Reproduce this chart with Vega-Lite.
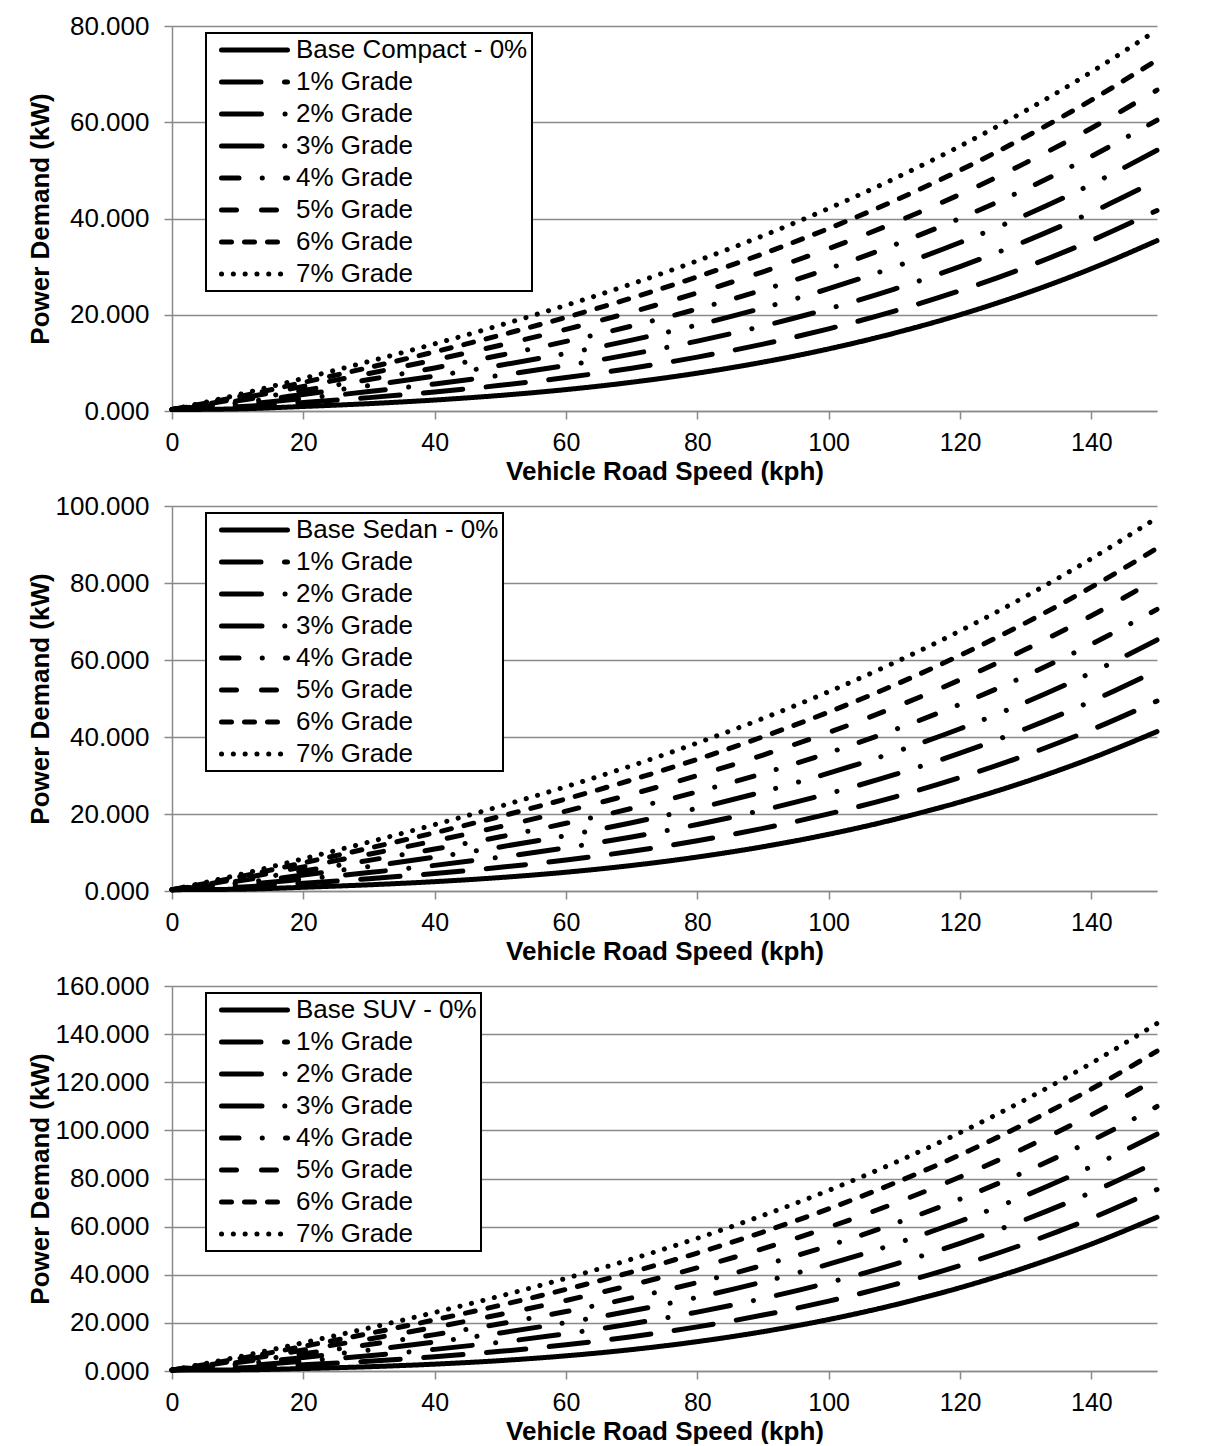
{
  "$schema": "https://vega.github.io/schema/vega-lite/v6.json",
  "background": "white",
  "padding": {"left": 27, "top": 13, "right": 10, "bottom": 0},
  "spacing": 9,
  "config": {
    "view": {"stroke": null},
    "font": "Liberation Sans",
    "axis": {
      "labelFont": "Liberation Sans", "labelFontSize": 26, "labelColor": "black",
      "titleFont": "Liberation Sans", "titleFontSize": 26, "titleFontWeight": "bold", "titleColor": "black",
      "domainColor": "#8a8a8a", "domainWidth": 1.5,
      "tickColor": "#8a8a8a", "tickWidth": 1.5, "tickSize": 8,
      "gridColor": "#8a8a8a", "gridWidth": 1.5,
      "labelFlush": false
    },
    "axisX": {"grid": false, "labelFontSize": 25, "labelPadding": 11, "titlePadding": 3},
    "axisY": {"grid": true, "labelPadding": 15, "titlePadding": 2, "minExtent": 117, "maxExtent": 117, "format": ".3f"},
    "legend": {
      "title": null, "orient": "none", "legendX": 34, "legendY": 7,
      "symbolType": "stroke", "symbolSize": 4356, "symbolStrokeWidth": 5, "symbolStrokeColor": "black",
      "labelFont": "Liberation Sans", "labelFontSize": 26, "labelColor": "black", "labelLimit": 500,
      "symbolOffset": 9, "labelOffset": 6, "rowPadding": 6, "padding": 4, "clipHeight": 26,
      "strokeColor": "black", "fillColor": "white"
    }
  },
  "datasets": {
    "compact": [
      {"kph":0,"series":"Base Compact - 0%","kW":0.3},{"kph":10,"series":"Base Compact - 0%","kW":0.44},{"kph":20,"series":"Base Compact - 0%","kW":0.94},{"kph":30,"series":"Base Compact - 0%","kW":1.53},{"kph":40,"series":"Base Compact - 0%","kW":2.28},{"kph":50,"series":"Base Compact - 0%","kW":3.24},{"kph":60,"series":"Base Compact - 0%","kW":4.45},{"kph":70,"series":"Base Compact - 0%","kW":5.97},{"kph":80,"series":"Base Compact - 0%","kW":7.86},{"kph":90,"series":"Base Compact - 0%","kW":10.15},{"kph":100,"series":"Base Compact - 0%","kW":12.9},{"kph":110,"series":"Base Compact - 0%","kW":16.17},{"kph":120,"series":"Base Compact - 0%","kW":20},{"kph":130,"series":"Base Compact - 0%","kW":24.45},{"kph":140,"series":"Base Compact - 0%","kW":29.57},{"kph":150,"series":"Base Compact - 0%","kW":35.4},
      {"kph":0,"series":"1% Grade","kW":0.3},{"kph":10,"series":"1% Grade","kW":0.86},{"kph":20,"series":"1% Grade","kW":1.77},{"kph":30,"series":"1% Grade","kW":2.78},{"kph":40,"series":"1% Grade","kW":3.95},{"kph":50,"series":"1% Grade","kW":5.33},{"kph":60,"series":"1% Grade","kW":6.95},{"kph":70,"series":"1% Grade","kW":8.89},{"kph":80,"series":"1% Grade","kW":11.2},{"kph":90,"series":"1% Grade","kW":13.9},{"kph":100,"series":"1% Grade","kW":17.07},{"kph":110,"series":"1% Grade","kW":20.76},{"kph":120,"series":"1% Grade","kW":25},{"kph":130,"series":"1% Grade","kW":29.87},{"kph":140,"series":"1% Grade","kW":35.41},{"kph":150,"series":"1% Grade","kW":41.66},
      {"kph":0,"series":"2% Grade","kW":0.3},{"kph":10,"series":"2% Grade","kW":1.27},{"kph":20,"series":"2% Grade","kW":2.61},{"kph":30,"series":"2% Grade","kW":4.03},{"kph":40,"series":"2% Grade","kW":5.62},{"kph":50,"series":"2% Grade","kW":7.41},{"kph":60,"series":"2% Grade","kW":9.45},{"kph":70,"series":"2% Grade","kW":11.81},{"kph":80,"series":"2% Grade","kW":14.53},{"kph":90,"series":"2% Grade","kW":17.66},{"kph":100,"series":"2% Grade","kW":21.24},{"kph":110,"series":"2% Grade","kW":25.34},{"kph":120,"series":"2% Grade","kW":30.01},{"kph":130,"series":"2% Grade","kW":35.29},{"kph":140,"series":"2% Grade","kW":41.25},{"kph":150,"series":"2% Grade","kW":47.91},
      {"kph":0,"series":"3% Grade","kW":0.3},{"kph":10,"series":"3% Grade","kW":1.69},{"kph":20,"series":"3% Grade","kW":3.44},{"kph":30,"series":"3% Grade","kW":5.28},{"kph":40,"series":"3% Grade","kW":7.28},{"kph":50,"series":"3% Grade","kW":9.5},{"kph":60,"series":"3% Grade","kW":11.96},{"kph":70,"series":"3% Grade","kW":14.73},{"kph":80,"series":"3% Grade","kW":17.87},{"kph":90,"series":"3% Grade","kW":21.41},{"kph":100,"series":"3% Grade","kW":25.41},{"kph":110,"series":"3% Grade","kW":29.93},{"kph":120,"series":"3% Grade","kW":35.01},{"kph":130,"series":"3% Grade","kW":40.71},{"kph":140,"series":"3% Grade","kW":47.08},{"kph":150,"series":"3% Grade","kW":54.17},
      {"kph":0,"series":"4% Grade","kW":0.3},{"kph":10,"series":"4% Grade","kW":2.11},{"kph":20,"series":"4% Grade","kW":4.28},{"kph":30,"series":"4% Grade","kW":6.53},{"kph":40,"series":"4% Grade","kW":8.95},{"kph":50,"series":"4% Grade","kW":11.58},{"kph":60,"series":"4% Grade","kW":14.46},{"kph":70,"series":"4% Grade","kW":17.65},{"kph":80,"series":"4% Grade","kW":21.2},{"kph":90,"series":"4% Grade","kW":25.16},{"kph":100,"series":"4% Grade","kW":29.58},{"kph":110,"series":"4% Grade","kW":34.52},{"kph":120,"series":"4% Grade","kW":40.02},{"kph":130,"series":"4% Grade","kW":46.13},{"kph":140,"series":"4% Grade","kW":52.92},{"kph":150,"series":"4% Grade","kW":60.42},
      {"kph":0,"series":"5% Grade","kW":0.3},{"kph":10,"series":"5% Grade","kW":2.53},{"kph":20,"series":"5% Grade","kW":5.11},{"kph":30,"series":"5% Grade","kW":7.79},{"kph":40,"series":"5% Grade","kW":10.62},{"kph":50,"series":"5% Grade","kW":13.67},{"kph":60,"series":"5% Grade","kW":16.96},{"kph":70,"series":"5% Grade","kW":20.57},{"kph":80,"series":"5% Grade","kW":24.54},{"kph":90,"series":"5% Grade","kW":28.92},{"kph":100,"series":"5% Grade","kW":33.75},{"kph":110,"series":"5% Grade","kW":39.11},{"kph":120,"series":"5% Grade","kW":45.02},{"kph":130,"series":"5% Grade","kW":51.56},{"kph":140,"series":"5% Grade","kW":58.76},{"kph":150,"series":"5% Grade","kW":66.68},
      {"kph":0,"series":"6% Grade","kW":0.3},{"kph":10,"series":"6% Grade","kW":2.94},{"kph":20,"series":"6% Grade","kW":5.94},{"kph":30,"series":"6% Grade","kW":9.04},{"kph":40,"series":"6% Grade","kW":12.29},{"kph":50,"series":"6% Grade","kW":15.75},{"kph":60,"series":"6% Grade","kW":19.46},{"kph":70,"series":"6% Grade","kW":23.48},{"kph":80,"series":"6% Grade","kW":27.88},{"kph":90,"series":"6% Grade","kW":32.67},{"kph":100,"series":"6% Grade","kW":37.92},{"kph":110,"series":"6% Grade","kW":43.69},{"kph":120,"series":"6% Grade","kW":50.02},{"kph":130,"series":"6% Grade","kW":56.98},{"kph":140,"series":"6% Grade","kW":64.6},{"kph":150,"series":"6% Grade","kW":72.93},
      {"kph":0,"series":"7% Grade","kW":0.3},{"kph":10,"series":"7% Grade","kW":3.36},{"kph":20,"series":"7% Grade","kW":6.78},{"kph":30,"series":"7% Grade","kW":10.29},{"kph":40,"series":"7% Grade","kW":13.96},{"kph":50,"series":"7% Grade","kW":17.84},{"kph":60,"series":"7% Grade","kW":21.96},{"kph":70,"series":"7% Grade","kW":26.4},{"kph":80,"series":"7% Grade","kW":31.21},{"kph":90,"series":"7% Grade","kW":36.42},{"kph":100,"series":"7% Grade","kW":42.09},{"kph":110,"series":"7% Grade","kW":48.28},{"kph":120,"series":"7% Grade","kW":55.03},{"kph":130,"series":"7% Grade","kW":62.4},{"kph":140,"series":"7% Grade","kW":70.44},{"kph":150,"series":"7% Grade","kW":79.19}
    ],
    "sedan": [
      {"kph":0,"series":"Base Sedan - 0%","kW":0.35},{"kph":10,"series":"Base Sedan - 0%","kW":0.45},{"kph":20,"series":"Base Sedan - 0%","kW":0.97},{"kph":30,"series":"Base Sedan - 0%","kW":1.61},{"kph":40,"series":"Base Sedan - 0%","kW":2.43},{"kph":50,"series":"Base Sedan - 0%","kW":3.5},{"kph":60,"series":"Base Sedan - 0%","kW":4.88},{"kph":70,"series":"Base Sedan - 0%","kW":6.63},{"kph":80,"series":"Base Sedan - 0%","kW":8.82},{"kph":90,"series":"Base Sedan - 0%","kW":11.5},{"kph":100,"series":"Base Sedan - 0%","kW":14.73},{"kph":110,"series":"Base Sedan - 0%","kW":18.58},{"kph":120,"series":"Base Sedan - 0%","kW":23.11},{"kph":130,"series":"Base Sedan - 0%","kW":28.39},{"kph":140,"series":"Base Sedan - 0%","kW":34.47},{"kph":150,"series":"Base Sedan - 0%","kW":41.41},
      {"kph":0,"series":"1% Grade","kW":0.35},{"kph":10,"series":"1% Grade","kW":0.98},{"kph":20,"series":"1% Grade","kW":2.03},{"kph":30,"series":"1% Grade","kW":3.2},{"kph":40,"series":"1% Grade","kW":4.55},{"kph":50,"series":"1% Grade","kW":6.15},{"kph":60,"series":"1% Grade","kW":8.05},{"kph":70,"series":"1% Grade","kW":10.33},{"kph":80,"series":"1% Grade","kW":13.05},{"kph":90,"series":"1% Grade","kW":16.26},{"kph":100,"series":"1% Grade","kW":20.02},{"kph":110,"series":"1% Grade","kW":24.4},{"kph":120,"series":"1% Grade","kW":29.46},{"kph":130,"series":"1% Grade","kW":35.27},{"kph":140,"series":"1% Grade","kW":41.88},{"kph":150,"series":"1% Grade","kW":49.35},
      {"kph":0,"series":"2% Grade","kW":0.35},{"kph":10,"series":"2% Grade","kW":1.51},{"kph":20,"series":"2% Grade","kW":3.09},{"kph":30,"series":"2% Grade","kW":4.78},{"kph":40,"series":"2% Grade","kW":6.66},{"kph":50,"series":"2% Grade","kW":8.79},{"kph":60,"series":"2% Grade","kW":11.23},{"kph":70,"series":"2% Grade","kW":14.04},{"kph":80,"series":"2% Grade","kW":17.28},{"kph":90,"series":"2% Grade","kW":21.02},{"kph":100,"series":"2% Grade","kW":25.31},{"kph":110,"series":"2% Grade","kW":30.22},{"kph":120,"series":"2% Grade","kW":35.81},{"kph":130,"series":"2% Grade","kW":42.14},{"kph":140,"series":"2% Grade","kW":49.28},{"kph":150,"series":"2% Grade","kW":57.28},
      {"kph":0,"series":"3% Grade","kW":0.35},{"kph":10,"series":"3% Grade","kW":2.04},{"kph":20,"series":"3% Grade","kW":4.14},{"kph":30,"series":"3% Grade","kW":6.37},{"kph":40,"series":"3% Grade","kW":8.78},{"kph":50,"series":"3% Grade","kW":11.44},{"kph":60,"series":"3% Grade","kW":14.4},{"kph":70,"series":"3% Grade","kW":17.74},{"kph":80,"series":"3% Grade","kW":21.52},{"kph":90,"series":"3% Grade","kW":25.78},{"kph":100,"series":"3% Grade","kW":30.6},{"kph":110,"series":"3% Grade","kW":36.04},{"kph":120,"series":"3% Grade","kW":42.15},{"kph":130,"series":"3% Grade","kW":49.02},{"kph":140,"series":"3% Grade","kW":56.69},{"kph":150,"series":"3% Grade","kW":65.22},
      {"kph":0,"series":"4% Grade","kW":0.35},{"kph":10,"series":"4% Grade","kW":2.57},{"kph":20,"series":"4% Grade","kW":5.2},{"kph":30,"series":"4% Grade","kW":7.96},{"kph":40,"series":"4% Grade","kW":10.89},{"kph":50,"series":"4% Grade","kW":14.08},{"kph":60,"series":"4% Grade","kW":17.58},{"kph":70,"series":"4% Grade","kW":21.44},{"kph":80,"series":"4% Grade","kW":25.75},{"kph":90,"series":"4% Grade","kW":30.54},{"kph":100,"series":"4% Grade","kW":35.89},{"kph":110,"series":"4% Grade","kW":41.86},{"kph":120,"series":"4% Grade","kW":48.5},{"kph":130,"series":"4% Grade","kW":55.9},{"kph":140,"series":"4% Grade","kW":64.09},{"kph":150,"series":"4% Grade","kW":73.15},
      {"kph":0,"series":"5% Grade","kW":0.35},{"kph":10,"series":"5% Grade","kW":3.1},{"kph":20,"series":"5% Grade","kW":6.26},{"kph":30,"series":"5% Grade","kW":9.55},{"kph":40,"series":"5% Grade","kW":13.01},{"kph":50,"series":"5% Grade","kW":16.73},{"kph":60,"series":"5% Grade","kW":20.75},{"kph":70,"series":"5% Grade","kW":25.15},{"kph":80,"series":"5% Grade","kW":29.98},{"kph":90,"series":"5% Grade","kW":35.31},{"kph":100,"series":"5% Grade","kW":41.18},{"kph":110,"series":"5% Grade","kW":47.68},{"kph":120,"series":"5% Grade","kW":54.85},{"kph":130,"series":"5% Grade","kW":62.78},{"kph":140,"series":"5% Grade","kW":71.5},{"kph":150,"series":"5% Grade","kW":81.09},
      {"kph":0,"series":"6% Grade","kW":0.35},{"kph":10,"series":"6% Grade","kW":3.62},{"kph":20,"series":"6% Grade","kW":7.32},{"kph":30,"series":"6% Grade","kW":11.13},{"kph":40,"series":"6% Grade","kW":15.13},{"kph":50,"series":"6% Grade","kW":19.37},{"kph":60,"series":"6% Grade","kW":23.92},{"kph":70,"series":"6% Grade","kW":28.85},{"kph":80,"series":"6% Grade","kW":34.21},{"kph":90,"series":"6% Grade","kW":40.07},{"kph":100,"series":"6% Grade","kW":46.47},{"kph":110,"series":"6% Grade","kW":53.49},{"kph":120,"series":"6% Grade","kW":61.2},{"kph":130,"series":"6% Grade","kW":69.65},{"kph":140,"series":"6% Grade","kW":78.91},{"kph":150,"series":"6% Grade","kW":89.02},
      {"kph":0,"series":"7% Grade","kW":0.35},{"kph":10,"series":"7% Grade","kW":4.15},{"kph":20,"series":"7% Grade","kW":8.38},{"kph":30,"series":"7% Grade","kW":12.72},{"kph":40,"series":"7% Grade","kW":17.24},{"kph":50,"series":"7% Grade","kW":22.02},{"kph":60,"series":"7% Grade","kW":27.1},{"kph":70,"series":"7% Grade","kW":32.55},{"kph":80,"series":"7% Grade","kW":38.44},{"kph":90,"series":"7% Grade","kW":44.83},{"kph":100,"series":"7% Grade","kW":51.76},{"kph":110,"series":"7% Grade","kW":59.31},{"kph":120,"series":"7% Grade","kW":67.55},{"kph":130,"series":"7% Grade","kW":76.53},{"kph":140,"series":"7% Grade","kW":86.31},{"kph":150,"series":"7% Grade","kW":96.96}
    ],
    "suv": [
      {"kph":0,"series":"Base SUV - 0%","kW":0.4},{"kph":10,"series":"Base SUV - 0%","kW":0.46},{"kph":20,"series":"Base SUV - 0%","kW":1.02},{"kph":30,"series":"Base SUV - 0%","kW":1.78},{"kph":40,"series":"Base SUV - 0%","kW":2.85},{"kph":50,"series":"Base SUV - 0%","kW":4.32},{"kph":60,"series":"Base SUV - 0%","kW":6.31},{"kph":70,"series":"Base SUV - 0%","kW":8.9},{"kph":80,"series":"Base SUV - 0%","kW":12.21},{"kph":90,"series":"Base SUV - 0%","kW":16.34},{"kph":100,"series":"Base SUV - 0%","kW":21.38},{"kph":110,"series":"Base SUV - 0%","kW":27.44},{"kph":120,"series":"Base SUV - 0%","kW":34.62},{"kph":130,"series":"Base SUV - 0%","kW":43.03},{"kph":140,"series":"Base SUV - 0%","kW":52.75},{"kph":150,"series":"Base SUV - 0%","kW":63.91},
      {"kph":0,"series":"1% Grade","kW":0.4},{"kph":10,"series":"1% Grade","kW":1.23},{"kph":20,"series":"1% Grade","kW":2.55},{"kph":30,"series":"1% Grade","kW":4.08},{"kph":40,"series":"1% Grade","kW":5.92},{"kph":50,"series":"1% Grade","kW":8.16},{"kph":60,"series":"1% Grade","kW":10.91},{"kph":70,"series":"1% Grade","kW":14.27},{"kph":80,"series":"1% Grade","kW":18.35},{"kph":90,"series":"1% Grade","kW":23.24},{"kph":100,"series":"1% Grade","kW":29.05},{"kph":110,"series":"1% Grade","kW":35.88},{"kph":120,"series":"1% Grade","kW":43.82},{"kph":130,"series":"1% Grade","kW":53},{"kph":140,"series":"1% Grade","kW":63.49},{"kph":150,"series":"1% Grade","kW":75.42},
      {"kph":0,"series":"2% Grade","kW":0.4},{"kph":10,"series":"2% Grade","kW":1.99},{"kph":20,"series":"2% Grade","kW":4.09},{"kph":30,"series":"2% Grade","kW":6.38},{"kph":40,"series":"2% Grade","kW":8.99},{"kph":50,"series":"2% Grade","kW":11.99},{"kph":60,"series":"2% Grade","kW":15.51},{"kph":70,"series":"2% Grade","kW":19.64},{"kph":80,"series":"2% Grade","kW":24.48},{"kph":90,"series":"2% Grade","kW":30.15},{"kph":100,"series":"2% Grade","kW":36.72},{"kph":110,"series":"2% Grade","kW":44.31},{"kph":120,"series":"2% Grade","kW":53.03},{"kph":130,"series":"2% Grade","kW":62.97},{"kph":140,"series":"2% Grade","kW":74.23},{"kph":150,"series":"2% Grade","kW":86.92},
      {"kph":0,"series":"3% Grade","kW":0.4},{"kph":10,"series":"3% Grade","kW":2.76},{"kph":20,"series":"3% Grade","kW":5.62},{"kph":30,"series":"3% Grade","kW":8.68},{"kph":40,"series":"3% Grade","kW":12.05},{"kph":50,"series":"3% Grade","kW":15.83},{"kph":60,"series":"3% Grade","kW":20.12},{"kph":70,"series":"3% Grade","kW":25.01},{"kph":80,"series":"3% Grade","kW":30.62},{"kph":90,"series":"3% Grade","kW":37.05},{"kph":100,"series":"3% Grade","kW":44.39},{"kph":110,"series":"3% Grade","kW":52.75},{"kph":120,"series":"3% Grade","kW":62.23},{"kph":130,"series":"3% Grade","kW":72.94},{"kph":140,"series":"3% Grade","kW":84.96},{"kph":150,"series":"3% Grade","kW":98.43},
      {"kph":0,"series":"4% Grade","kW":0.4},{"kph":10,"series":"4% Grade","kW":3.53},{"kph":20,"series":"4% Grade","kW":7.16},{"kph":30,"series":"4% Grade","kW":10.98},{"kph":40,"series":"4% Grade","kW":15.12},{"kph":50,"series":"4% Grade","kW":19.66},{"kph":60,"series":"4% Grade","kW":24.72},{"kph":70,"series":"4% Grade","kW":30.38},{"kph":80,"series":"4% Grade","kW":36.75},{"kph":90,"series":"4% Grade","kW":43.95},{"kph":100,"series":"4% Grade","kW":52.06},{"kph":110,"series":"4% Grade","kW":61.19},{"kph":120,"series":"4% Grade","kW":71.44},{"kph":130,"series":"4% Grade","kW":82.91},{"kph":140,"series":"4% Grade","kW":95.7},{"kph":150,"series":"4% Grade","kW":109.93},
      {"kph":0,"series":"5% Grade","kW":0.4},{"kph":10,"series":"5% Grade","kW":4.3},{"kph":20,"series":"5% Grade","kW":8.69},{"kph":30,"series":"5% Grade","kW":13.29},{"kph":40,"series":"5% Grade","kW":18.19},{"kph":50,"series":"5% Grade","kW":23.5},{"kph":60,"series":"5% Grade","kW":29.32},{"kph":70,"series":"5% Grade","kW":35.75},{"kph":80,"series":"5% Grade","kW":42.89},{"kph":90,"series":"5% Grade","kW":50.86},{"kph":100,"series":"5% Grade","kW":59.73},{"kph":110,"series":"5% Grade","kW":69.63},{"kph":120,"series":"5% Grade","kW":80.64},{"kph":130,"series":"5% Grade","kW":92.89},{"kph":140,"series":"5% Grade","kW":106.44},{"kph":150,"series":"5% Grade","kW":121.44},
      {"kph":0,"series":"6% Grade","kW":0.4},{"kph":10,"series":"6% Grade","kW":5.06},{"kph":20,"series":"6% Grade","kW":10.22},{"kph":30,"series":"6% Grade","kW":15.59},{"kph":40,"series":"6% Grade","kW":21.26},{"kph":50,"series":"6% Grade","kW":27.33},{"kph":60,"series":"6% Grade","kW":33.92},{"kph":70,"series":"6% Grade","kW":41.11},{"kph":80,"series":"6% Grade","kW":49.03},{"kph":90,"series":"6% Grade","kW":57.76},{"kph":100,"series":"6% Grade","kW":67.4},{"kph":110,"series":"6% Grade","kW":78.06},{"kph":120,"series":"6% Grade","kW":89.84},{"kph":130,"series":"6% Grade","kW":102.86},{"kph":140,"series":"6% Grade","kW":117.18},{"kph":150,"series":"6% Grade","kW":132.94},
      {"kph":0,"series":"7% Grade","kW":0.4},{"kph":10,"series":"7% Grade","kW":5.83},{"kph":20,"series":"7% Grade","kW":11.76},{"kph":30,"series":"7% Grade","kW":17.89},{"kph":40,"series":"7% Grade","kW":24.33},{"kph":50,"series":"7% Grade","kW":31.17},{"kph":60,"series":"7% Grade","kW":38.52},{"kph":70,"series":"7% Grade","kW":46.48},{"kph":80,"series":"7% Grade","kW":55.16},{"kph":90,"series":"7% Grade","kW":64.66},{"kph":100,"series":"7% Grade","kW":75.07},{"kph":110,"series":"7% Grade","kW":86.5},{"kph":120,"series":"7% Grade","kW":99.05},{"kph":130,"series":"7% Grade","kW":112.83},{"kph":140,"series":"7% Grade","kW":127.92},{"kph":150,"series":"7% Grade","kW":144.45}
    ]
  },
  "resolve": {"scale": {"strokeDash": "independent", "y": "independent"}, "legend": {"strokeDash": "independent"}},
  "vconcat": [
    {
      "width": 985, "height": 385,
      "data": {"name": "compact"},
      "mark": {"type": "line", "color": "black", "strokeWidth": 5, "strokeCap": "round", "strokeJoin": "round", "interpolate": "monotone"},
      "encoding": {
        "x": {"field": "kph", "type": "quantitative", "scale": {"domain": [0, 150], "nice": false},
              "axis": {"title": "Vehicle Road Speed (kph)", "values": [0, 20, 40, 60, 80, 100, 120, 140]}},
        "y": {"field": "kW", "type": "quantitative", "scale": {"domain": [0, 80], "nice": false},
              "axis": {"title": "Power Demand (kW)", "values": [0, 20, 40, 60, 80]}},
        "strokeDash": {"field": "series", "type": "nominal",
          "scale": {"domain": ["Base Compact - 0%", "1% Grade", "2% Grade", "3% Grade", "4% Grade", "5% Grade", "6% Grade", "7% Grade"],
                    "range": [[1, 0], [39.5, 23.5], [40, 23.5, 0.1, 23.5], [40.5, 22.75, 0.1, 23.7, 0.1, 22.75], [17.5, 23.2, 0.1, 23.2], [15, 25], [10, 13], [0.1, 11.7]]},
          "legend": {"encode": {"symbols": {"update": {"strokeCap": {"value": "round"}}}, "legend": {"update": {"strokeWidth": {"value": 2}}}}}}
      }
    },
    {
      "width": 985, "height": 385,
      "data": {"name": "sedan"},
      "mark": {"type": "line", "color": "black", "strokeWidth": 5, "strokeCap": "round", "strokeJoin": "round", "interpolate": "monotone"},
      "encoding": {
        "x": {"field": "kph", "type": "quantitative", "scale": {"domain": [0, 150], "nice": false},
              "axis": {"title": "Vehicle Road Speed (kph)", "values": [0, 20, 40, 60, 80, 100, 120, 140]}},
        "y": {"field": "kW", "type": "quantitative", "scale": {"domain": [0, 100], "nice": false},
              "axis": {"title": "Power Demand (kW)", "values": [0, 20, 40, 60, 80, 100]}},
        "strokeDash": {"field": "series", "type": "nominal",
          "scale": {"domain": ["Base Sedan - 0%", "1% Grade", "2% Grade", "3% Grade", "4% Grade", "5% Grade", "6% Grade", "7% Grade"],
                    "range": [[1, 0], [39.5, 23.5], [40, 23.5, 0.1, 23.5], [40.5, 22.75, 0.1, 23.7, 0.1, 22.75], [17.5, 23.2, 0.1, 23.2], [15, 25], [10, 13], [0.1, 11.7]]},
          "legend": {"encode": {"symbols": {"update": {"strokeCap": {"value": "round"}}}, "legend": {"update": {"strokeWidth": {"value": 2}}}}}}
      }
    },
    {
      "width": 985, "height": 385,
      "data": {"name": "suv"},
      "mark": {"type": "line", "color": "black", "strokeWidth": 5, "strokeCap": "round", "strokeJoin": "round", "interpolate": "monotone"},
      "encoding": {
        "x": {"field": "kph", "type": "quantitative", "scale": {"domain": [0, 150], "nice": false},
              "axis": {"title": "Vehicle Road Speed (kph)", "values": [0, 20, 40, 60, 80, 100, 120, 140]}},
        "y": {"field": "kW", "type": "quantitative", "scale": {"domain": [0, 160], "nice": false},
              "axis": {"title": "Power Demand (kW)", "values": [0, 20, 40, 60, 80, 100, 120, 140, 160]}},
        "strokeDash": {"field": "series", "type": "nominal",
          "scale": {"domain": ["Base SUV - 0%", "1% Grade", "2% Grade", "3% Grade", "4% Grade", "5% Grade", "6% Grade", "7% Grade"],
                    "range": [[1, 0], [39.5, 23.5], [40, 23.5, 0.1, 23.5], [40.5, 22.75, 0.1, 23.7, 0.1, 22.75], [17.5, 23.2, 0.1, 23.2], [15, 25], [10, 13], [0.1, 11.7]]},
          "legend": {"encode": {"symbols": {"update": {"strokeCap": {"value": "round"}}}, "legend": {"update": {"strokeWidth": {"value": 2}}}}}}
      }
    }
  ]
}
